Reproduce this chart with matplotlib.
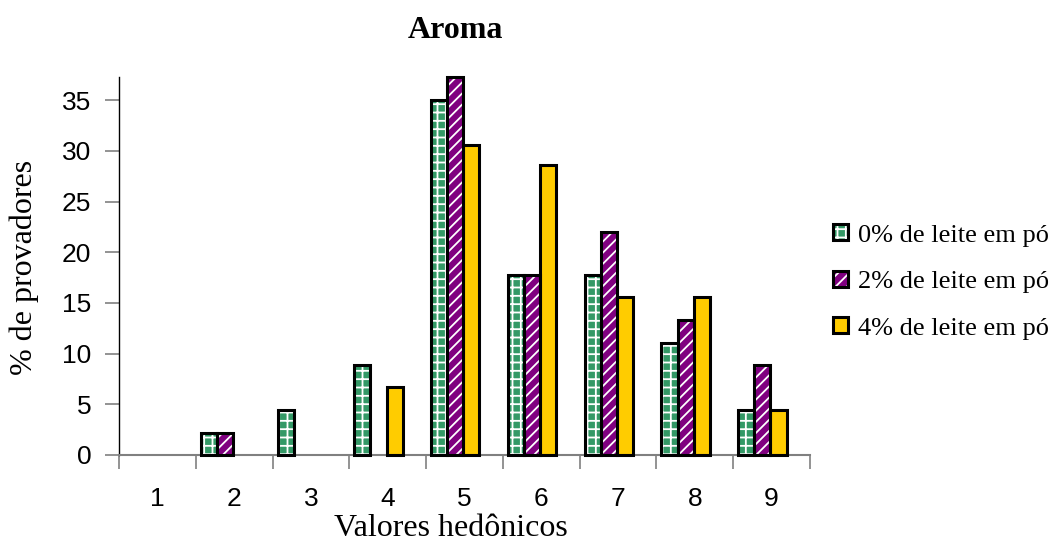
import matplotlib
matplotlib.use("Agg")
import matplotlib.pyplot as plt
import numpy as np
from matplotlib.patches import Patch
from matplotlib.legend_handler import HandlerTuple

# hedonic scale and % of tasters per formulation
valores = np.array([1, 2, 3, 4, 5, 6, 7, 8, 9])
leite_0 = np.array([0, 2.2, 4.4, 8.9, 35.0, 17.8, 17.8, 11.1, 4.4])
leite_2 = np.array([0, 2.2, 0, 0, 37.3, 17.8, 22.0, 13.3, 8.9])
leite_4 = np.array([0, 0, 0, 6.7, 30.6, 28.6, 15.6, 15.6, 4.4])
legendas = ["0% de leite em pó", "2% de leite em pó", "4% de leite em pó"]
yticks = [0, 5, 10, 15, 20, 25, 30, 35]

serif = "Liberation Serif"
sans = "Liberation Sans"
plt.rcParams['hatch.linewidth'] = 1.3

fig = plt.figure(figsize=(10.6, 5.43), dpi=100)
ax = fig.add_axes([119/1060, 1-455/543, (810-119)/1060, (455-77)/543])

w = 0.21
shift = -0.12
series = [(leite_0, '#339966', '++'), (leite_2, '#800080', '///'), (leite_4, '#FFCC00', None)]
handles = []
for i, (vals, cor, hatch) in enumerate(series):
    pos = valores + shift + (i - 1)*w
    m = vals > 0
    # fill + white pattern first, black outline on top
    ax.bar(pos[m], vals[m], width=w, color=cor, edgecolor='white', hatch=hatch,
           linewidth=0, clip_on=False, zorder=2)
    ax.bar(pos[m], vals[m], width=w, fill=False, edgecolor='black',
           linewidth=2.2, clip_on=False, zorder=3)
    h1 = Patch(facecolor=cor, edgecolor='white', hatch=hatch, linewidth=0)
    h2 = Patch(fill=False, edgecolor='black', linewidth=2.2)
    handles.append((h1, h2))

ax.set_xlim(0.5, 9.5)
ax.set_ylim(0, 37.3)
ax.set_yticks(yticks)
ax.set_xticks(valores)
ax.set_xticks(np.arange(0.5, 10, 1), minor=True)
ax.tick_params(axis='x', which='major', length=0, pad=23, labelsize=19)
ax.tick_params(axis='x', which='minor', length=10, color='#808080', width=1.2, direction='out')
ax.tick_params(axis='y', length=10, color='#808080', width=1.2, pad=10, labelsize=19)
for lab in ax.get_xticklabels() + ax.get_yticklabels():
    lab.set_fontfamily(sans)

ax.spines['top'].set_visible(False)
ax.spines['right'].set_visible(False)
ax.spines['left'].set_color('black')
ax.spines['left'].set_linewidth(1.0)
ax.spines['bottom'].set_color('#808080')
ax.spines['bottom'].set_linewidth(1.5)

fig.text(455/1060, 1-30/543, "Aroma", ha='center', va='center',
         fontfamily=serif, fontweight='bold', fontsize=23)
fig.text(451/1060, 1-528/543, "Valores hedônicos", ha='center', va='center',
         fontfamily=serif, fontsize=23)
fig.text(24/1060, 1-267/543, "% de provadores", ha='center', va='center',
         rotation=90, fontfamily=serif, fontsize=23)

fig.legend(handles, legendas, handler_map={tuple: HandlerTuple(ndivide=1, pad=0)},
           loc='center left', bbox_to_anchor=(833/1060, 1-282/543),
           frameon=False, borderpad=0, borderaxespad=0,
           handlelength=0.55, handleheight=0.55, handletextpad=0.4, labelspacing=0.92,
           prop={'family': serif, 'size': 19})

fig.savefig("out.png", dpi=100)
